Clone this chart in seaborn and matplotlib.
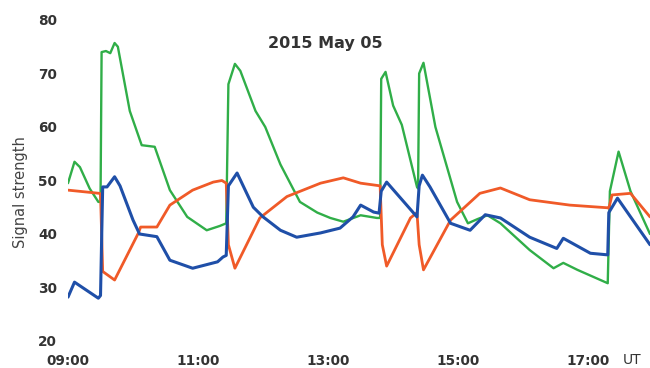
import matplotlib
matplotlib.use("Agg")
import matplotlib.pyplot as plt
import seaborn as sns
import pandas as pd

# minutes after 09:00 UT and signal strength
green_t = [0, 6, 11, 20, 28, 30, 31, 35, 39, 43, 46, 57, 68, 80, 94, 110, 128, 140, 146, 148, 154, 159,
           173, 179, 182, 196, 214, 230, 242, 254, 270, 285, 288, 289, 293, 300, 308, 322, 323, 324, 328,
           339, 359, 369, 378, 387, 399, 426, 448, 457, 470, 498, 500, 508, 519, 537]
green_v = [49.5, 53.5, 52.5, 48.5, 46, 46, 74, 74.2, 73.8, 75.7, 75, 63, 56.6, 56.3, 48.2, 43.2, 40.7, 41.5,
           42, 68, 71.8, 70.5, 63, 61, 60, 53, 46, 44, 43, 42.3, 43.5, 43, 43, 69, 70.3, 64, 60.4, 48.8,
           48.5, 70, 72, 60, 46, 42, 42.8, 43.5, 42, 37, 33.6, 34.6, 33.3, 30.8, 48, 55.4, 48, 40]

orange_t = [0, 29, 30, 32, 43, 65, 67, 82, 94, 115, 134, 142, 146, 148, 154, 177, 202, 233, 254, 270, 288,
            290, 294, 316, 322, 324, 328, 353, 380, 399, 426, 463, 498, 499, 502, 519, 537]
orange_v = [48.2, 47.6, 47.5, 33, 31.4, 40.2, 41.3, 41.3, 45.4, 48.2, 49.7, 50, 49.5, 38, 33.6, 43, 47, 49.5,
            50.5, 49.5, 49, 38, 34, 43, 44, 38, 33.3, 42.6, 47.6, 48.6, 46.4, 45.4, 44.9, 44.8, 47.3, 47.6, 43.2]

blue_t = [0, 6, 28, 30, 32, 36, 43, 48, 60, 66, 82, 94, 115, 138, 143, 146, 148, 156, 171, 180, 196, 211,
          233, 251, 263, 270, 282, 287, 289, 294, 322, 324, 327, 334, 353, 371, 385, 399, 426, 451, 457,
          482, 498, 499, 507, 537]
blue_v = [28.2, 31, 28, 28.5, 48.8, 48.8, 50.7, 49, 42.6, 40, 39.5, 35.1, 33.6, 34.8, 35.7, 36, 49, 51.4,
          45, 43.2, 40.7, 39.4, 40.2, 41.1, 43.2, 45.4, 44.1, 43.9, 48, 49.7, 43.2, 49, 51, 48.8, 42, 40.7,
          43.6, 43, 39.4, 37.3, 39.2, 36.4, 36.1, 44, 46.7, 38]

xtick_pos = [0, 120, 240, 360, 480]
xtick_labels = ["09:00", "11:00", "13:00", "15:00", "17:00"]
ytick_vals = [20, 30, 40, 50, 60, 70, 80]
title = "2015 May 05"

series = [
    (pd.DataFrame({"t": green_t, "v": green_v}), "#30ae48", 1.7),
    (pd.DataFrame({"t": orange_t, "v": orange_v}), "#f05a28", 2.0),
    (pd.DataFrame({"t": blue_t, "v": blue_v}), "#1f4fa8", 2.2),
]

sns.set_theme(style="white")
plt.rcParams["font.family"] = ["DejaVu Sans"]

fig = plt.figure(figsize=(6.5, 3.68), dpi=100)
ax = fig.add_axes([68 / 650, 1 - 341 / 368, 582 / 650, 321 / 368])

for d, c, lw in series:
    sns.lineplot(data=d, x="t", y="v", color=c, estimator=None, sort=False,
                 linewidth=lw, ax=ax)

ax.set_xlim(0, 537)
ax.set_ylim(20, 80)
ax.set_xticks(xtick_pos)
ax.set_xticklabels(xtick_labels)
ax.set_yticks(ytick_vals)
for s in ax.spines.values():
    s.set_visible(False)
ax.tick_params(axis="both", length=0, labelsize=9.8, colors="#333333")
ax.tick_params(axis="y", pad=8)
ax.tick_params(axis="x", pad=9.5)
for lbl in ax.get_xticklabels() + ax.get_yticklabels():
    lbl.set_fontweight("bold")
ax.set_xlabel("")
ax.set_ylabel("Signal strength", fontsize=10.5, color="#444444")
ax.yaxis.set_label_coords(-0.069, 0.464)
ax.text(0.4416, 0.928, title, transform=ax.transAxes, ha="center", va="center",
        fontsize=11.5, fontweight="bold", color="#333333")
ax.text(0.969, -0.059, "UT", transform=ax.transAxes, ha="center", va="center",
        fontsize=10, color="#333333")

fig.savefig("out.png", dpi=100)
